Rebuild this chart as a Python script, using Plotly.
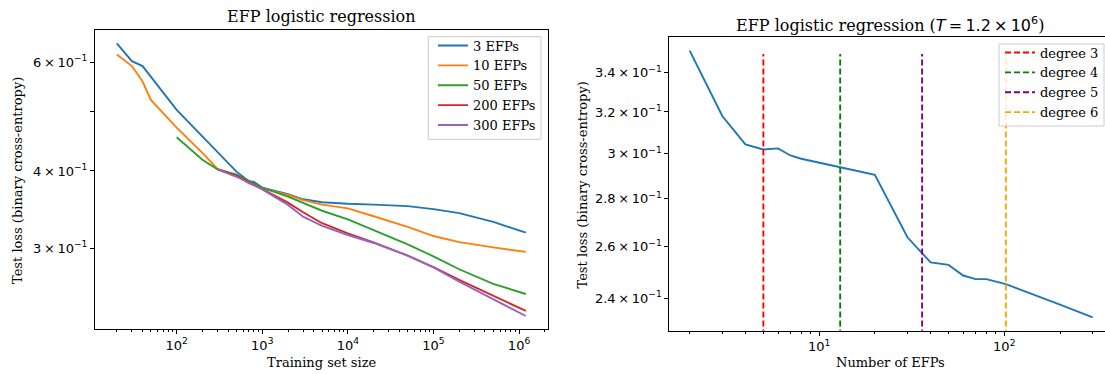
import plotly.graph_objects as go

# ---------------- data (left panel) ----------------
x_3efp = [20, 30, 40, 100, 500, 700, 800, 1000, 2000, 3000, 5000, 1e4, 2e4, 5e4, 1e5, 2e5, 5e5, 1.2e6]
y_3efp = [0.643, 0.602, 0.591, 0.502, 0.399, 0.385, 0.384, 0.376, 0.367, 0.360, 0.356, 0.354, 0.353, 0.351, 0.347, 0.342, 0.331, 0.318]

x_10efp = [20, 30, 40, 50, 100, 200, 300, 500, 700, 1000, 2000, 3000, 5000, 1e4, 2e4, 5e4, 1e5, 2e5, 5e5, 1.2e6]
y_10efp = [0.617, 0.591, 0.558, 0.521, 0.470, 0.428, 0.403, 0.394, 0.382, 0.375, 0.366, 0.359, 0.353, 0.348, 0.338, 0.325, 0.314, 0.307, 0.301, 0.296]

x_50efp = [100, 200, 300, 500, 1000, 2000, 5000, 1e4, 2e4, 5e4, 1e5, 2e5, 5e5, 1.2e6]
y_50efp = [0.4535, 0.417, 0.4025, 0.3945, 0.376, 0.3635, 0.345, 0.334, 0.321, 0.3045, 0.2912, 0.2775, 0.2628, 0.2531]

x_200efp = [300, 500, 1000, 2000, 3000, 5000, 1e4, 2e4, 5e4, 1e5, 2e5, 5e5, 1.2e6]
y_200efp = [0.4025, 0.393, 0.374, 0.3556, 0.343, 0.3293, 0.3172, 0.3068, 0.292, 0.2797, 0.2667, 0.2513, 0.2377]

x_300efp = [300, 500, 1000, 2000, 3000, 5000, 1e4, 2e4, 5e4, 1e5, 2e5, 5e5, 1.2e6]
y_300efp = [0.4025, 0.3915, 0.3735, 0.3526, 0.3375, 0.326, 0.3152, 0.306, 0.292, 0.2795, 0.265, 0.2485, 0.2332]

series_names = ["3 EFPs", "10 EFPs", "50 EFPs", "200 EFPs", "300 EFPs"]

# ---------------- data (right panel) ----------------
n_efps = [2, 3, 4, 5, 6, 7, 8, 10, 13, 20, 30, 40, 50, 60, 70, 80, 102, 200, 300]
loss_efps = [0.3518, 0.3180, 0.3044, 0.3020, 0.3025, 0.2992, 0.2977, 0.2958, 0.2938, 0.2904,
             0.2637, 0.2537, 0.2527, 0.2486, 0.2472, 0.2472, 0.2453, 0.2377, 0.2330]

degree_names = ["degree 3", "degree 4", "degree 5", "degree 6"]
degree_x = [5, 13, 36, 102]
vline_y = [0.2, 0.35]

# tick labels
left_y_ticks = [0.3, 0.4, 0.5, 0.6]
left_y_text = ["3\u2009×\u200910<sup>\u22121</sup>", "4\u2009×\u200910<sup>\u22121</sup>", "",
               "6\u2009×\u200910<sup>\u22121</sup>"]
left_x_ticks = [1e2, 1e3, 1e4, 1e5, 1e6]
left_x_text = ["10<sup>2</sup>", "10<sup>3</sup>", "10<sup>4</sup>", "10<sup>5</sup>", "10<sup>6</sup>"]
right_y_ticks = [0.24, 0.26, 0.28, 0.30, 0.32, 0.34]
right_y_text = ["2.4\u2009×\u200910<sup>\u22121</sup>", "2.6\u2009×\u200910<sup>\u22121</sup>",
                "2.8\u2009×\u200910<sup>\u22121</sup>", "3\u2009×\u200910<sup>\u22121</sup>",
                "3.2\u2009×\u200910<sup>\u22121</sup>", "3.4\u2009×\u200910<sup>\u22121</sup>"]
right_x_ticks = [10, 100]
right_x_text = ["10<sup>1</sup>", "10<sup>2</sup>"]

# ---------------- styling ----------------
W, H = 1105, 374
tab_colors = ["#1f77b4", "#ff7f0e", "#2ca02c", "#d62728", "#9467bd"]
deg_colors = ["#ff0000", "#008000", "#800080", "#ffa500"]
SERIF = "DejaVu Serif"
SANS = "DejaVu Sans"
LW = 1.9


def minor_log(lo, hi):
    out = []
    for d in range(-1, 8):
        for k in range(2, 10):
            v = k * 10 ** d
            if lo <= v <= hi:
                out.append(v)
    return out


fig = go.Figure()
left_data = [(x_3efp, y_3efp), (x_10efp, y_10efp), (x_50efp, y_50efp), (x_200efp, y_200efp), (x_300efp, y_300efp)]
for (xs, ys), name, c in zip(left_data, series_names, tab_colors):
    fig.add_trace(go.Scatter(x=xs, y=ys, mode="lines", name=name, line=dict(color=c, width=LW),
                             xaxis="x", yaxis="y", legend="legend"))

fig.add_trace(go.Scatter(x=n_efps, y=loss_efps, mode="lines", line=dict(color=tab_colors[0], width=LW),
                         xaxis="x2", yaxis="y2", showlegend=False))
for xv, name, c in zip(degree_x, degree_names, deg_colors):
    fig.add_trace(go.Scatter(x=[xv, xv], y=vline_y, mode="lines", name=name,
                             line=dict(color=c, width=LW, dash="6px,3px"),
                             xaxis="x2", yaxis="y2", legend="legend2"))

axis_common = dict(type="log", showline=True, linecolor="black", linewidth=1, ticks="outside",
                   ticklen=4, tickwidth=1, tickcolor="black", showgrid=False, zeroline=False,
                   tickmode="array", tickfont=dict(family=SANS, size=13, color="black"))

lx_range = [1.046, 6.342]
ly_range = [-0.6533, -0.1701]
rx_range = [0.191, 2.544]
ry_range = [-0.6415, -0.4448]

legend_common = dict(xanchor="right", yanchor="top", bgcolor="rgba(0,0,0,0)", borderwidth=0,
                     font=dict(family=SERIF, size=13, color="black"), tracegroupgap=0, itemwidth=30)

fig.update_layout(
    width=W, height=H, margin=dict(l=0, r=0, t=0, b=0),
    plot_bgcolor="white", paper_bgcolor="white",
    xaxis=dict(axis_common, domain=[95 / W, 548.3 / W], range=lx_range, anchor="y", mirror=True,
               tickvals=left_x_ticks, ticktext=left_x_text,
               minor=dict(tickvals=minor_log(10 ** lx_range[0], 10 ** lx_range[1]), ticklen=2,
                          ticks="outside", tickcolor="black", tickwidth=1, showgrid=False)),
    yaxis=dict(axis_common, domain=[1 - 329 / H, 1 - 30 / H], range=ly_range, anchor="x", mirror=True,
               tickvals=left_y_ticks, ticktext=left_y_text),
    xaxis2=dict(axis_common, domain=[669.3 / W, 1.0], range=rx_range, anchor="y2", mirror=True,
                tickvals=right_x_ticks, ticktext=right_x_text,
                minor=dict(tickvals=minor_log(10 ** rx_range[0], 10 ** rx_range[1]), ticklen=2,
                           ticks="outside", tickcolor="black", tickwidth=1, showgrid=False)),
    yaxis2=dict(axis_common, domain=[1 - 330.7 / H, 1 - 37.3 / H], range=ry_range, anchor="x2",
                tickvals=right_y_ticks, ticktext=right_y_text),
    legend=dict(legend_common, x=541 / W, y=1 - 30.5 / H),
    legend2=dict(legend_common, x=1104 / W, y=1 - 37.5 / H),
)

# legend frames (matplotlib-style translucent boxes)
for x0, x1, y0, y1 in [(428.3, 541, 36.7, 139.3), (999, 1104, 44, 126)]:
    fig.add_shape(type="rect", xref="paper", yref="paper", x0=x0 / W, x1=x1 / W,
                  y0=1 - y1 / H, y1=1 - y0 / H, layer="above",
                  line=dict(color="#cccccc", width=1), fillcolor="rgba(255,255,255,0.8)")


def ann(text, xpx, ypx, size=13, angle=0):
    fig.add_annotation(text=text, x=xpx / W, y=1 - ypx / H, xref="paper", yref="paper",
                       xanchor="center", yanchor="middle", showarrow=False, textangle=angle,
                       font=dict(family=SERIF, size=size, color="black"))


ann("EFP logistic regression", 321.7, 16.5, size=16)
ann("EFP logistic regression (<span style='font-family:DejaVu Sans'><i>T</i>\u2009=\u20091.2\u2009×\u200910<sup>6</sup></span>)",
    890, 24, size=16)
ann("Training set size", 321.7, 362)
ann("Number of EFPs", 890, 362)
ann("Test loss (binary cross-entropy)", 18, 181, angle=-90)
ann("Test loss (binary cross-entropy)", 581.5, 185, angle=-90)

fig.write_html("out.html")
